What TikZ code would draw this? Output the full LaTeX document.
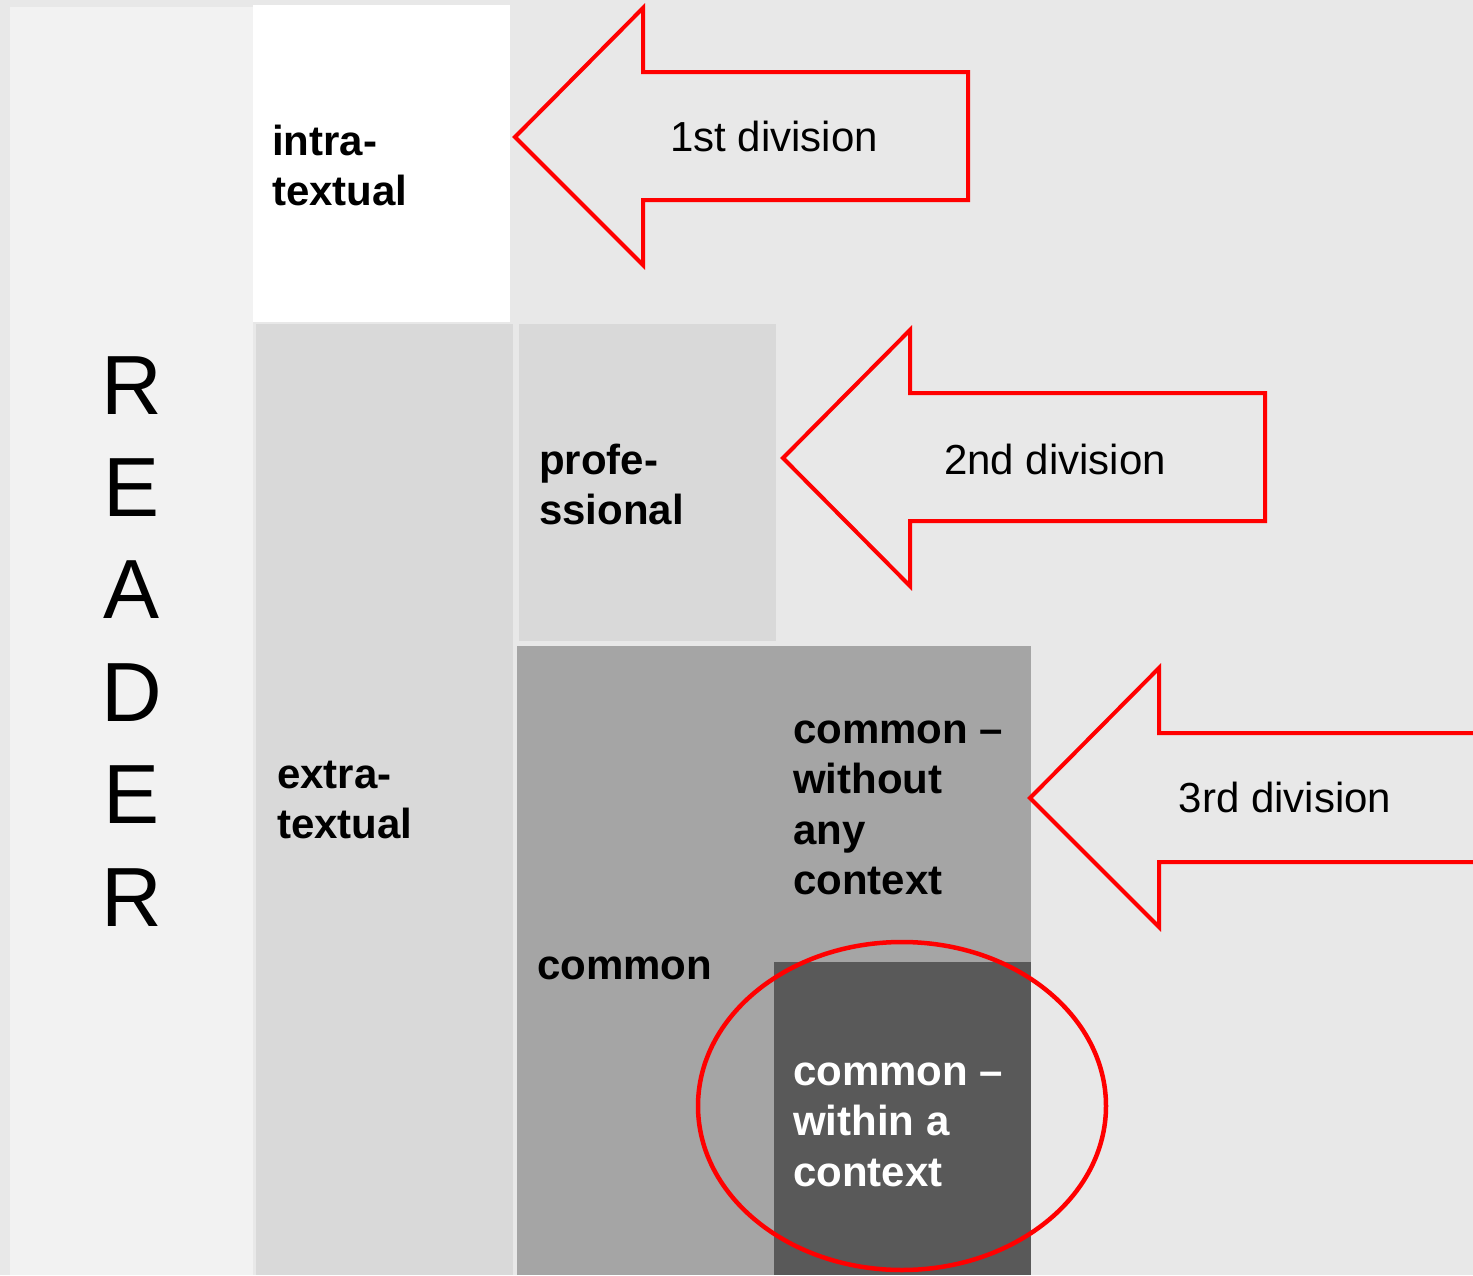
\documentclass[tikz,border=0pt]{standalone}
\usepackage{fontspec}
\setmainfont{Liberation Sans}
\definecolor{bgtex}{HTML}{E8E8E8}
\definecolor{readercol}{HTML}{F2F2F2}
\definecolor{midgray}{HTML}{D9D9D9}
\definecolor{deepgray}{HTML}{A5A5A5}
\definecolor{darkgray}{HTML}{595959}
\definecolor{markred}{HTML}{FF0000}
\tikzset{
  lab/.style={inner sep=0pt, anchor=base west, font=\fontsize{42}{50.5}\selectfont\bfseries},
  divlabel/.style={inner sep=0pt, anchor=base, font=\fontsize{42}{50}\selectfont},
  divarrow/.style={draw=markred, line width=4pt, line join=miter},
}
\newcommand{\lines}[1]{\parbox[t]{300pt}{#1}}
\begin{document}
\begin{tikzpicture}[x=1pt,y=-1pt]
  \useasboundingbox (0,0) rectangle (1473,1275);
  \clip (0,0) rectangle (1473,1275);
  % textured backdrop
  \fill[bgtex] (0,0) rectangle (1473,1275);
  % columns
  \fill[readercol] (10,7) rectangle (253,1275);
  \fill[white] (253,5) rectangle (510,322);
  \fill[midgray] (256,324) rectangle (513,1275);
  \fill[midgray] (519,324) rectangle (776,641);
  \fill[deepgray] (517,646) rectangle (1031,1275);
  \fill[darkgray] (774,962) rectangle (1031,1275);

  % reader
  \node[inner sep=0pt, anchor=base, font=\fontsize{84}{102.4}\selectfont] (reader) at (132,414)
    {\parbox[t]{100pt}{\centering R\\E\\A\\D\\E\\R}};

  % category labels
  \node[lab] (intra) at (272,155) {\lines{intra-\\textual}};
  \node[lab] (extra) at (277,788) {\lines{extra-\\textual}};
  \node[lab] (profe) at (539,474) {\lines{profe-\\ssional}};
  \node[lab] (common) at (537,979) {common};
  \node[lab] (without) at (793,743) {\lines{common –\\without\\any\\context}};
  \node[lab, text=white] (within) at (793,1085) {\lines{common –\\within a\\context}};

  % division arrows
  \draw[divarrow] (515,137) -- (643,8) -- (643,72) -- (968,72) -- (968,200) -- (643,200) -- (643,265) -- cycle;
  \node[divlabel] (div1) at (774,151) {1st division};
  \draw[divarrow] (783,458) -- (910,330) -- (910,393) -- (1265,393) -- (1265,521) -- (910,521) -- (910,586) -- cycle;
  \node[divlabel] (div2) at (1055,474) {2nd division};
  \draw[divarrow] (1030,798) -- (1159,668) -- (1159,733) -- (1500,733) -- (1500,862) -- (1159,862) -- (1159,927) -- cycle;
  \node[divlabel] (div3) at (1285,812) {3rd division};

  % highlight ring
  \draw[markred, line width=4.5pt] (902,1106) ellipse [x radius=204, y radius=164];
\end{tikzpicture}
\end{document}
